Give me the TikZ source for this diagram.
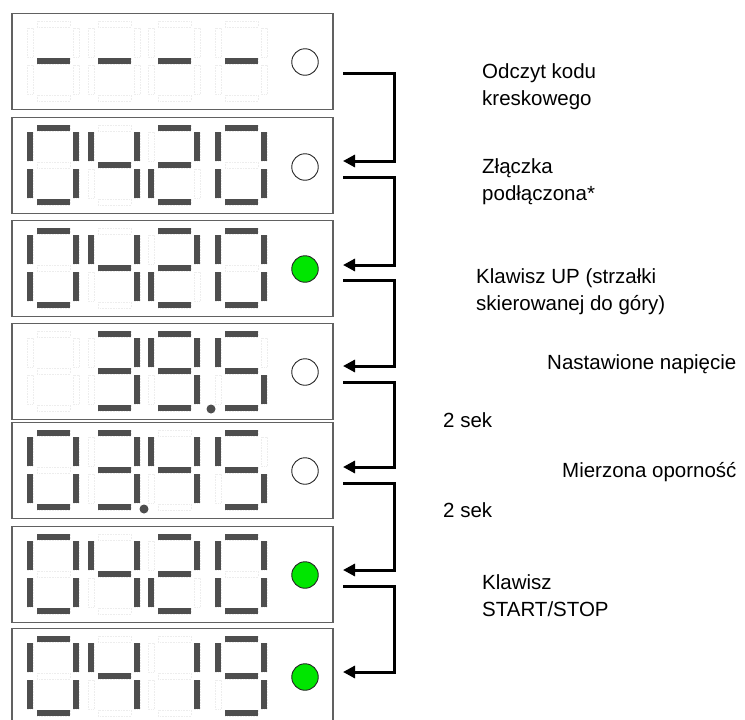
\documentclass[tikz,border=0pt]{standalone}
\usepackage{fontspec}
\setmainfont{Liberation Sans}
\usetikzlibrary{arrows.meta}
\definecolor{ledon}{RGB}{0,230,0}
\definecolor{segc}{RGB}{78,78,78}
\tikzset{
  box/.style={draw=black!62, line width=1.7pt, minimum width=321pt, minimum height=96pt, inner sep=0pt},
  lit/.style={fill=segc},
  ghostseg/.style={draw=black!7, line width=0.6pt, densely dotted},
  led/.style={circle, draw=black!85, line width=0.9pt, fill=white, minimum size=26.5pt, inner sep=0pt},
  ledg/.style={led, fill=ledon},
  dp/.style={circle, fill=segc, minimum size=9pt, inner sep=0pt},
  lbl/.style={anchor=base west, align=left, inner sep=0pt, font=\fontsize{20.5pt}{27pt}\selectfont},
  flow/.style={line width=3pt, -{Triangle[length=12pt,width=12pt]}}
}
\newcommand\sga[3]{\path[#3] (#1+10,#2+8) rectangle (#1+43,#2+14);}
\newcommand\sgg[3]{\path[#3] (#1+10,#2+45) rectangle (#1+43,#2+51);}
\newcommand\sgd[3]{\path[#3] (#1+10,#2+82) rectangle (#1+43,#2+88);}
\newcommand\sgf[3]{\path[#3] (#1,#2+15) rectangle (#1+6,#2+44);}
\newcommand\sgb[3]{\path[#3] (#1+46,#2+15) rectangle (#1+52,#2+44);}
\newcommand\sge[3]{\path[#3] (#1,#2+52) rectangle (#1+6,#2+81);}
\newcommand\sgc[3]{\path[#3] (#1+46,#2+52) rectangle (#1+52,#2+81);}
\newcommand\segdigit[3]{\foreach \s in {#3}{\csname sg\s\endcsname{#1}{#2}{lit}}}
\newcommand\ghostrow[1]{\foreach \xx in {27,88,148,215}{\foreach \s in {a,b,c,d,e,f,g}{\csname sg\s\endcsname{\xx}{#1}{ghostseg}}}}
\begin{document}
\begin{tikzpicture}[x=1pt,y=-1pt]
\useasboundingbox (0,0) rectangle (745,720);
\clip (0,0) rectangle (745,720);
% boxes
\node[box] (b1) at (172.5,61.5) {};
\node[box] (b2) at (172.5,165.5) {};
\node[box] (b3) at (172.5,268.5) {};
\node[box] (b4) at (172.5,371.5) {};
\node[box] (b5) at (172.5,470.5) {};
\node[box] (b6) at (172.5,574.5) {};
\node[box] (b7) at (172.5,676.5) {};
% ghost segments
\foreach \T in {13,117,220,323,422,526,628}{\ghostrow{\T}}
% box 1: ----
\foreach \xx in {27,88,148,215}{\segdigit{\xx}{13}{g}}
% box 2: 0420
\segdigit{27}{117}{a,b,c,d,e,f}\segdigit{88}{117}{b,c,f,g}\segdigit{148}{117}{a,b,d,e,g}\segdigit{215}{117}{a,b,c,d,e,f}
% box 3: 0420
\segdigit{27}{220}{a,b,c,d,e,f}\segdigit{88}{220}{b,c,f,g}\segdigit{148}{220}{a,b,d,e,g}\segdigit{215}{220}{a,b,c,d,e,f}
% box 4: 39.5
\segdigit{88}{323}{a,b,c,d,g}\segdigit{148}{323}{a,b,c,d,f,g}\segdigit{215}{323}{a,c,d,f,g}
% box 5: 03.45
\segdigit{27}{422}{a,b,c,d,e,f}\segdigit{88}{422}{a,b,c,d,g}\segdigit{148}{422}{b,c,f,g}\segdigit{215}{422}{a,c,d,f,g}
% box 6: 0420
\segdigit{27}{526}{a,b,c,d,e,f}\segdigit{88}{526}{b,c,f,g}\segdigit{148}{526}{a,b,d,e,g}\segdigit{215}{526}{a,b,c,d,e,f}
% box 7: 04 19
\segdigit{27}{628}{a,b,c,d,e,f}\segdigit{88}{628}{b,c,f,g}\segdigit{148}{628}{b,c}\segdigit{215}{628}{a,b,c,d,f,g}
% decimal points
\node[dp] (p4) at (211,409) {};
\node[dp] (p5) at (144,509) {};
% LEDs
\node[led] (l1) at (305,62) {};
\node[led] (l2) at (305,167) {};
\node[ledg] (l3) at (305,269) {};
\node[led] (l4) at (305,372) {};
\node[led] (l5) at (305,471) {};
\node[ledg] (l6) at (305,575) {};
\node[ledg] (l7) at (305,677) {};
% connectors
\coordinate (o1) at (343,73);  \coordinate (i2) at (343,161);
\coordinate (o2) at (343,177); \coordinate (i3) at (343,265);
\coordinate (o3) at (343,280); \coordinate (i4) at (343,366);
\coordinate (o4) at (343,382); \coordinate (i5) at (343,467);
\coordinate (o5) at (343,483); \coordinate (i6) at (343,570);
\coordinate (o6) at (343,586); \coordinate (i7) at (343,672);
\draw[flow] (o1) -- ++(51,0) |- (i2);
\draw[flow] (o2) -- ++(51,0) |- (i3);
\draw[flow] (o3) -- ++(51,0) |- (i4);
\draw[flow] (o4) -- ++(51,0) |- (i5);
\draw[flow] (o5) -- ++(51,0) |- (i6);
\draw[flow] (o6) -- ++(51,0) |- (i7);
% labels (base anchor = last line)
\node[lbl] (t1) at (482,105) {Odczyt kodu\\kreskowego};
\node[lbl] (t2) at (482,200) {Złączka\\podłączona*};
\node[lbl] (t3) at (476,310) {Klawisz UP (strzałki\\skierowanej do góry)};
\node[lbl] (t4) at (547,369) {Nastawione napięcie};
\node[lbl] (t5) at (443,427) {2 sek};
\node[lbl] (t6) at (562,477) {Mierzona oporność};
\node[lbl] (t7) at (443,517) {2 sek};
\node[lbl] (t8) at (482,616) {Klawisz\\START/STOP};
\end{tikzpicture}
\end{document}
